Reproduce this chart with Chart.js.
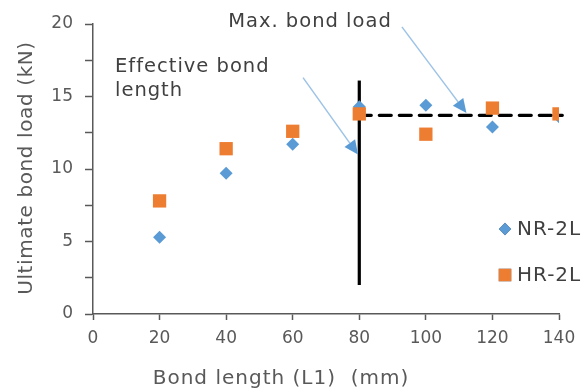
<!DOCTYPE html>
<html>
<head>
<meta charset="utf-8">
<script src="https://cdn.jsdelivr.net/npm/chart.js@4.4.0/dist/chart.umd.min.js"></script>
<style>
  html, body { margin: 0; padding: 0; background: #ffffff; }
</style>
</head>
<body>
<canvas id="bondChart"></canvas>
<script>
// Данные графика
const bondLength = [20, 40, 60, 80, 100, 120, 140];
const nrLoad = [5.3, 9.7, 11.7, 14.3, 14.4, 12.9, 13.6];
const hrLoad = [7.8, 11.4, 12.6, 13.8, 12.4, 14.2, 13.8];
const seriesNames = ['NR-2L', 'HR-2L'];

// Вспомогательные линии: эффективная длина и максимальная нагрузка
const effectiveLength = 80;
const effectiveLineY = [2.0, 16.1];
const maxBondLoad = 13.7;
const maxLineX = [80, 141];

const FONT = '"DejaVu Sans", sans-serif';
const TEXT_COLOR = '#595959';
const AXIS_COLOR = '#595959';
const BLUE = '#5B9BD5';
const ORANGE = '#ED7D31';

const canvas = document.getElementById('bondChart');
canvas.width = 587;
canvas.height = 392;
const ctx = canvas.getContext('2d');

// Подписи и стрелки (в координатах данных)
const annotations = [
    { lines: ['Effective bond', 'length'], x: 6.6, y: 16.7, from: [63.1, 16.3], to: [79.6, 11.0] },
    { lines: ['Max. bond load'], x: 40.6, y: 19.8, from: [92.8, 19.8], to: [112.2, 13.86] }
];

function drawArrow(c, x1, y1, x2, y2) {
    const ang = Math.atan2(y2 - y1, x2 - x1);
    const len = 14, half = 6.5;
    const bx = x2 - len * Math.cos(ang), by = y2 - len * Math.sin(ang);
    c.strokeStyle = '#9DC3E6';
    c.lineWidth = 1.5;
    c.beginPath();
    c.moveTo(x1, y1);
    c.lineTo(bx, by);
    c.stroke();
    c.fillStyle = BLUE;
    c.beginPath();
    c.moveTo(x2, y2);
    c.lineTo(bx + half * Math.sin(ang), by - half * Math.cos(ang));
    c.lineTo(bx - half * Math.sin(ang), by + half * Math.cos(ang));
    c.closePath();
    c.fill();
}

const extrasPlugin = {
    id: 'extras',
    afterDraw: (chart) => {
        const c = chart.ctx;
        const xs = chart.scales.x, ys = chart.scales.y;
        c.save();

        // подписи осей
        c.fillStyle = TEXT_COLOR;
        c.font = `20px ${FONT}`;
        c.letterSpacing = '1px';
        c.textAlign = 'center';
        c.textBaseline = 'middle';
        c.fillText('Bond length (L1)  (mm)', 281, 379);
        c.letterSpacing = '0.6px';
        c.save();
        c.translate(27, 168);
        c.rotate(-Math.PI / 2);
        c.fillText('Ultimate bond load (kN)', 0, 0);
        c.restore();

        // аннотации
        c.font = `19.5px ${FONT}`;
        c.letterSpacing = '1px';
        c.textAlign = 'left';
        c.textBaseline = 'alphabetic';
        annotations.forEach(a => {
            const px = xs.getPixelForValue(a.x), py = ys.getPixelForValue(a.y);
            a.lines.forEach((t, i) => {
                c.fillStyle = '#404040';
                c.fillText(t, px, py + i * 24);
            });
            drawArrow(c, xs.getPixelForValue(a.from[0]), ys.getPixelForValue(a.from[1]),
                xs.getPixelForValue(a.to[0]), ys.getPixelForValue(a.to[1]));
        });

        // легенда: NR-2L сверху, HR-2L снизу
        const legendY = { 'NR-2L': 229, 'HR-2L': 275 };
        chart.data.datasets.slice(0, 2).forEach((ds) => {
            const ly = legendY[ds.label];
            Chart.helpers.drawPoint(c, {
                pointStyle: ds.pointStyle,
                radius: ds.pointRadius * 0.95,
                borderWidth: 0
            }, 505, ly);
            c.fillStyle = ds.backgroundColor;
            c.fill();
            c.fillStyle = '#404040';
            c.font = `20px ${FONT}`;
            c.letterSpacing = '1px';
            c.textBaseline = 'middle';
            c.fillText(ds.label, 517, ly + 1);
        });
        c.restore();
    }
};

const bondChart = new Chart(ctx, {
    type: 'scatter',
    data: {
        datasets: [
            {
                label: seriesNames[1],
                data: bondLength.map((x, i) => ({ x: x, y: hrLoad[i] })),
                pointStyle: 'rect',
                pointRadius: 9.4,
                backgroundColor: ORANGE,
                borderWidth: 0,
                order: 0
            },
            {
                label: seriesNames[0],
                data: bondLength.map((x, i) => ({ x: x, y: nrLoad[i] })),
                pointStyle: 'rectRot',
                pointRadius: 6.5,
                backgroundColor: BLUE,
                borderWidth: 0,
                order: 1
            },
            {
                label: 'effective',
                data: effectiveLineY.map(y => ({ x: effectiveLength, y: y })),
                showLine: true,
                pointRadius: 0,
                borderColor: '#000000',
                borderWidth: 3.2,
                order: 2
            },
            {
                label: 'max',
                data: maxLineX.map(x => ({ x: x, y: maxBondLoad })),
                showLine: true,
                pointRadius: 0,
                borderColor: '#000000',
                borderWidth: 3.2,
                borderDash: [12, 8],
                borderCapStyle: 'round',
                clip: false,
                order: 3
            }
        ]
    },
    options: {
        responsive: false,
        animation: false,
        layout: { padding: { top: 24, right: 28, left: 0, bottom: 0 } },
        plugins: {
            legend: { display: false },
            tooltip: { enabled: false }
        },
        scales: {
            x: {
                type: 'linear',
                min: 0,
                max: 140,
                ticks: { stepSize: 20, color: TEXT_COLOR, padding: 8, font: { size: 17, family: FONT } },
                grid: { drawOnChartArea: false, drawTicks: true, tickLength: 6, tickColor: AXIS_COLOR, tickWidth: 1.5 },
                border: { color: AXIS_COLOR, width: 1.5 },
                afterFit: (s) => { s.height = 78; }
            },
            y: {
                min: 0,
                max: 20,
                ticks: {
                    stepSize: 2.5,
                    color: TEXT_COLOR,
                    padding: 12,
                    font: { size: 17, family: FONT },
                    callback: (v) => (v % 5 === 0 ? v : '')
                },
                grid: { drawOnChartArea: false, drawTicks: true, tickLength: 8, tickColor: AXIS_COLOR, tickWidth: 1.5 },
                border: { color: AXIS_COLOR, width: 1.5 },
                afterFit: (s) => { s.width = 93; }
            }
        }
    },
    plugins: [extrasPlugin]
});
</script>
</body>
</html>
